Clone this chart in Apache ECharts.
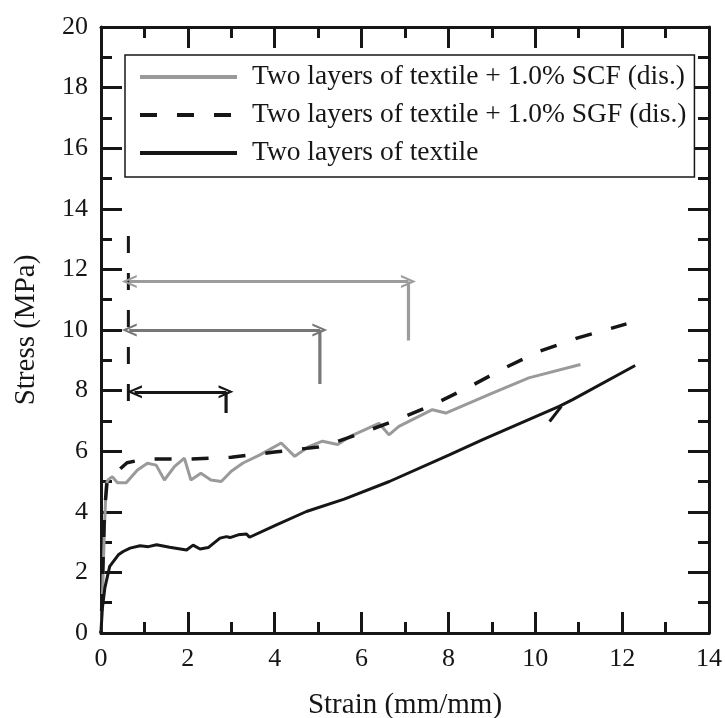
<!DOCTYPE html>
<html>
<head>
<meta charset="utf-8">
<script src="https://cdn.jsdelivr.net/npm/echarts@6.0.0/dist/echarts.min.js"></script>
<style>
    html, body {margin: 0; padding: 0; background: #fff;}
    #stress_strain {width: 725px; height: 718px;}
</style>
</head>
<body>
<div id="stress_strain"></div>
<script>
// curves: [strain, stress]
var scfName = 'Two layers of textile + 1.0% SCF (dis.)';
var sgfName = 'Two layers of textile + 1.0% SGF (dis.)';
var plainName = 'Two layers of textile';

var scfCurve = [[0,0],[0.04,1.5],[0.08,3.5],[0.12,4.9],[0.16,5.05],[0.26,5.16],[0.38,4.96],[0.58,4.96],
    [0.84,5.38],[1.07,5.6],[1.27,5.54],[1.46,5.05],[1.69,5.49],[1.92,5.77],[2.07,5.05],[2.3,5.27],
    [2.53,5.05],[2.77,5.0],[3.0,5.34],[3.27,5.61],[3.66,5.88],[4.15,6.27],[4.46,5.83],[4.8,6.16],
    [5.1,6.33],[5.45,6.22],[5.75,6.5],[6.4,6.92],[6.63,6.54],[6.86,6.82],[7.63,7.37],[7.94,7.26],
    [8.93,7.87],[9.85,8.42],[11.04,8.86]];

var sgfCurve = [[0,0],[0.04,2.0],[0.08,4.0],[0.14,5.0],[0.35,5.3],[0.6,5.62],[1.0,5.74],[2.0,5.74],
    [3.0,5.8],[4.0,5.97],[5.0,6.14],[5.5,6.35],[6.0,6.6],[6.8,7.03],[7.6,7.5],[8.45,8.1],
    [9.3,8.75],[10.1,9.3],[11.0,9.75],[12.1,10.2]];

var plainCurve = [[0,0],[0.03,0.8],[0.09,1.5],[0.2,2.2],[0.4,2.58],[0.51,2.69],[0.67,2.8],[0.9,2.88],
    [1.09,2.85],[1.28,2.91],[1.58,2.83],[1.97,2.74],[2.12,2.9],[2.28,2.77],[2.47,2.82],[2.74,3.13],
    [2.89,3.18],[2.97,3.15],[3.16,3.24],[3.35,3.27],[3.42,3.16],[4.04,3.57],[4.73,4.01],[5.6,4.42],
    [6.64,5.0],[8.02,5.88],[8.79,6.38],[9.94,7.1],[10.55,7.48],[10.86,7.7],[12.3,8.83]];
var plainHook = [[10.33,6.98],[10.6,7.48]];

// annotations: dashed drop line and the three strain arrows
var dropLine = [[0.63,13.1],[0.63,7.3]];
var arrowLight = [[0.65,11.6],[7.08,11.6],[7.08,9.65]];
var arrowMid = [[0.65,10.0],[5.04,10.0],[5.04,8.22]];
var arrowDark = [[0.77,7.96],[2.88,7.96],[2.88,7.26]];

var serif = 'Liberation Serif';
var ink = '#161616';
var lightGray = '#9a9a9a';
var chevron = 'path://M0,10 L5,0 L10,10 L8.2,10 L5,3.4 L1.8,10 Z';

function boxAxis(pos, max, withLabel) {
    return {
        type: 'value',
        position: pos,
        min: 0,
        max: max,
        interval: 2,
        axisLine: {show: true, onZero: false, lineStyle: {color: ink, width: 3}},
        axisTick: {show: true, inside: true, length: 21, lineStyle: {color: ink, width: 3}},
        minorTick: {show: true, splitNumber: 2, length: 11, lineStyle: {color: ink, width: 3}},
        splitLine: {show: false},
        minorSplitLine: {show: false},
        axisLabel: {
            show: withLabel,
            margin: 13,
            color: ink,
            fontFamily: serif,
            fontSize: 26,
            showMinLabel: true,
            showMaxLabel: true
        }
    };
}

function arrowSeries(pts, color) {
    return {
        type: 'line',
        data: [pts[1], pts[2]],
        symbol: 'none',
        silent: true,
        lineStyle: {color: color, width: 3.2},
        markLine: {
            silent: true,
            animation: false,
            symbol: [chevron, chevron],
            symbolSize: [13, 15],
            label: {show: false},
            lineStyle: {color: color, width: 3.2, type: 'solid'},
            emphasis: {disabled: true},
            data: [[{coord: pts[0]}, {coord: pts[1]}]]
        }
    };
}

var myChart = echarts.init(document.getElementById('stress_strain'));

var xBottom = boxAxis('bottom', 14, true);
xBottom.name = 'Strain (mm/mm)';
xBottom.nameLocation = 'middle';
xBottom.nameGap = 58;
xBottom.nameTextStyle = {color: ink, fontFamily: serif, fontSize: 29};

var yLeft = boxAxis('left', 20, true);
yLeft.name = 'Stress (MPa)';
yLeft.nameLocation = 'middle';
yLeft.nameGap = 60;
yLeft.nameTextStyle = {color: ink, fontFamily: serif, fontSize: 29};

var option = {
    animation: false,
    backgroundColor: '#fff',
    grid: {
        left: 101,
        right: 16,
        top: 27,
        bottom: 85,
        containLabel: false,
        outerBoundsMode: 'none'
    },
    legend: {
        orient: 'vertical',
        left: 125,
        top: 55,
        data: [scfName, sgfName, plainName],
        itemWidth: 97,
        itemHeight: 14,
        itemGap: 8,
        padding: [7, 8, 9, 13],
        borderColor: ink,
        borderWidth: 1.5,
        backgroundColor: '#fff',
        selectedMode: false,
        itemStyle: {color: 'rgba(0,0,0,0)', borderWidth: 0, opacity: 0},
        lineStyle: {width: 4, dashOffset: 0},
        textStyle: {
            color: ink,
            fontFamily: serif,
            fontSize: 27.5,
            lineHeight: 30,
            padding: [0, 0, 0, 10]
        }
    },
    xAxis: [xBottom, boxAxis('top', 14, false)],
    yAxis: [yLeft, boxAxis('right', 20, false)],
    series: [
        {
            name: scfName,
            type: 'line',
            data: scfCurve,
            symbol: 'none',
            z: 3,
            itemStyle: {color: lightGray},
            lineStyle: {color: lightGray, width: 3}
        },
        {
            name: sgfName,
            type: 'line',
            data: sgfCurve,
            symbol: 'none',
            z: 4,
            itemStyle: {color: ink},
            lineStyle: {color: ink, width: 3.5, type: [17, 20], dashOffset: 15}
        },
        {
            name: plainName,
            type: 'line',
            data: plainCurve,
            symbol: 'none',
            z: 4,
            itemStyle: {color: ink},
            lineStyle: {color: ink, width: 3}
        },
        {
            type: 'line',
            data: plainHook,
            symbol: 'none',
            lineStyle: {color: ink, width: 3}
        },
        {
            type: 'line',
            data: dropLine,
            symbol: 'none',
            lineStyle: {color: ink, width: 3, type: [17, 20]}
        },
        arrowSeries(arrowLight, '#9c9c9c'),
        arrowSeries(arrowMid, '#777777'),
        arrowSeries(arrowDark, ink)
    ]
};
myChart.setOption(option);
</script>
</body>
</html>
